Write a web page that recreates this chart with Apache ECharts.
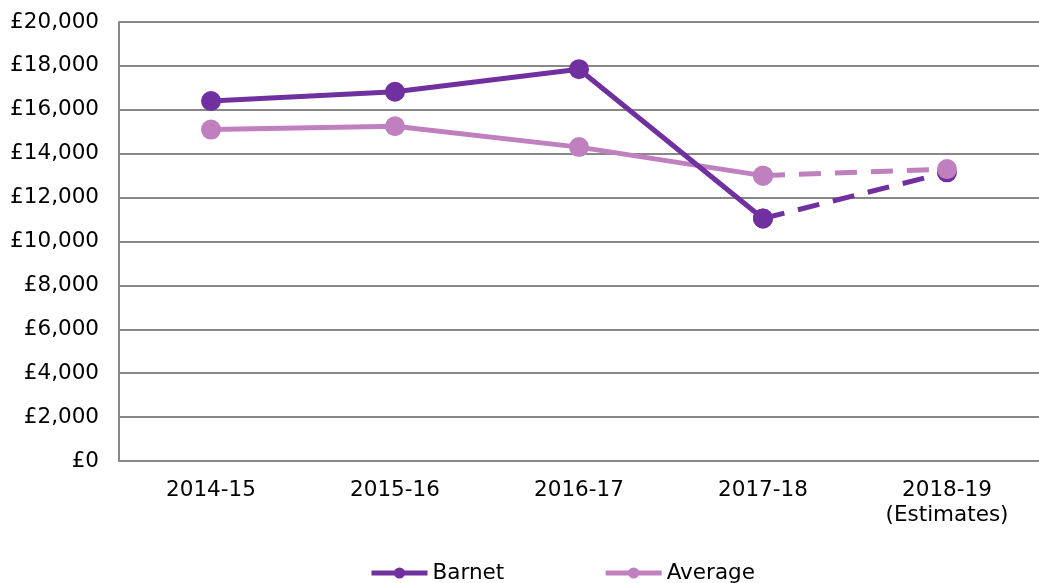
<!DOCTYPE html>
<html>
<head>
<meta charset="utf-8">
<script src="https://cdn.jsdelivr.net/npm/echarts@6/dist/echarts.min.js"></script>
<style>
html, body { margin: 0; padding: 0; background: #fff; }
#main { width: 1039px; height: 583px; }
</style>
</head>
<body>
<div id="main"></div>
<script>
var years = ['2014-15', '2015-16', '2016-17', '2017-18', '2018-19\n(Estimates)'];
var barnet = [16400, 16820, 17850, 11050, 13150];
var average = [15100, 15250, 14300, 13000, 13300];

// split each series: actuals solid, estimate leg dashed
function actual(arr) { return arr.map(function (v, i) { return i < 4 ? v : '-'; }); }
function estimate(arr) { return arr.map(function (v, i) { return i >= 3 ? v : '-'; }); }

var dark = '#7030a0', light = '#c080c0';
var font = 'DejaVu Sans';
var fs = 21.5;

var myChart = echarts.init(document.getElementById('main'));
var option = {
	animation: false,
	textStyle: { fontFamily: font },
	grid: { left: 119, right: -11, top: 22, bottom: 122 },
	legend: {
		data: ['Barnet', 'Average'],
		top: 557,
		left: 364,
		itemWidth: 56,
		itemHeight: 14,
		itemGap: 99,
		lineStyle: { width: 5 },
		textStyle: { fontSize: fs, color: '#000', fontFamily: font }
	},
	xAxis: {
		type: 'category',
		data: years,
		boundaryGap: true,
		axisLine: { lineStyle: { color: '#888', width: 2 } },
		axisTick: { show: false },
		axisLabel: { color: '#000', fontSize: fs, margin: 17, lineHeight: 25, fontFamily: font }
	},
	yAxis: {
		type: 'value',
		min: 0,
		max: 20000,
		interval: 2000,
		axisLine: { show: true, lineStyle: { color: '#888', width: 2 } },
		axisTick: { show: false },
		splitLine: { lineStyle: { color: '#888', width: 2 } },
		axisLabel: {
			color: '#000', fontSize: fs, margin: 20, fontFamily: font,
			formatter: function (v) { return '£' + v.toLocaleString('en-GB'); }
		}
	},
	series: [
		{
			name: 'Average', type: 'line', data: actual(average),
			symbol: 'circle', symbolSize: 20,
			lineStyle: { color: light, width: 5 }, itemStyle: { color: light }
		},
		{
			name: 'Barnet', type: 'line', data: actual(barnet),
			symbol: 'circle', symbolSize: 20,
			lineStyle: { color: dark, width: 5 }, itemStyle: { color: dark }
		},
		{
			name: 'Barnet est', type: 'line', data: estimate(barnet),
			symbol: 'circle', symbolSize: 20,
			lineStyle: { color: dark, width: 5, type: [22, 14] }, itemStyle: { color: dark }
		},
		{
			name: 'Average est', type: 'line', data: estimate(average),
			symbol: 'circle', symbolSize: 20,
			lineStyle: { color: light, width: 5, type: [22, 14] }, itemStyle: { color: light }
		}
	]
};
myChart.setOption(option);
</script>
</body>
</html>
